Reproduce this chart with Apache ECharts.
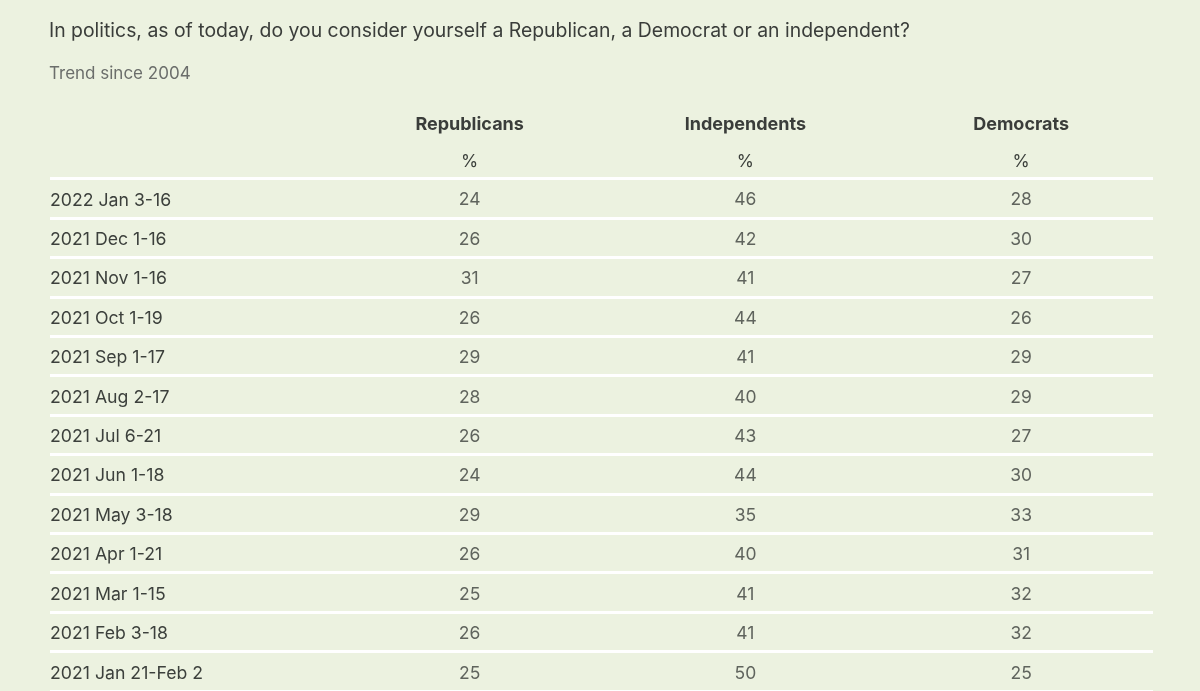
<!DOCTYPE html>
<html>
<head>
<meta charset="utf-8">
<script src="https://cdn.jsdelivr.net/npm/echarts@6/dist/echarts.min.js"></script>
<style>
  html, body { margin: 0; padding: 0; background: #ecf2e0; }
  #box { width: 1200px; height: 691px; }
</style>
</head>
<body>
<div id="box"></div>
<script>
var titleText = 'In politics, as of today, do you consider yourself a Republican, a Democrat or an independent?';
var subText = 'Trend since 2004';
var columns = ['', 'Republicans', 'Independents', 'Democrats'];
var unitLabel = '%';
var periods = [
  '2022 Jan 3-16', '2021 Dec 1-16', '2021 Nov 1-16', '2021 Oct 1-19',
  '2021 Sep 1-17', '2021 Aug 2-17', '2021 Jul 6-21', '2021 Jun 1-18',
  '2021 May 3-18', '2021 Apr 1-21', '2021 Mar 1-15', '2021 Feb 3-18',
  '2021 Jan 21-Feb 2'
];
var republicans = [24, 26, 31, 26, 29, 28, 26, 24, 29, 26, 25, 26, 25];
var independents = [46, 42, 41, 44, 41, 40, 43, 44, 35, 40, 41, 41, 50];
var democrats = [28, 30, 27, 26, 29, 29, 27, 30, 33, 31, 32, 32, 25];

var font = 'Inter, "Noto Sans", sans-serif';
var textColor = '#3c403c';

// one invisible scatter series per column, the label is the cell
function cellSeries(col, values) {
  return {
    type: 'scatter',
    symbolSize: 0,
    silent: true,
    data: periods.map(function (p, i) { return [col, p, values[i]]; }),
    label: {
      show: true,
      position: 'inside',
      offset: [6, 2],
      formatter: function (d) { return d.value[2]; },
      color: textColor,
      fontFamily: font,
      fontSize: 17.5
    }
  };
}

var mychart = echarts.init(document.getElementById('box'));
mychart.setOption({
  backgroundColor: '#ecf2e0',
  animation: false,
  title: {
    text: titleText,
    subtext: subText,
    left: 44,
    top: 17,
    itemGap: 24,
    textStyle: { fontFamily: font, fontSize: 19.4, fontWeight: 'normal', color: '#3a3d3a' },
    subtextStyle: { fontFamily: font, fontSize: 17, color: '#6b6e6b' }
  },
  grid: { left: 50, right: 47, top: 178.5, bottom: -1 },
  xAxis: {
    type: 'category',
    position: 'top',
    data: columns,
    axisLine: { show: false },
    axisTick: { show: false },
    splitLine: { show: false },
    axisLabel: {
      margin: -1.5,
      formatter: function (v) { return v ? '{h|' + v + '}\n{p|' + unitLabel + '}' : ''; },
      rich: {
        h: { fontFamily: font, fontSize: 18, fontWeight: 'bold', color: '#3a3d3a', lineHeight: 37, padding: [0, 0, 0, 12] },
        p: { fontFamily: font, fontSize: 17.5, color: textColor, lineHeight: 37, padding: [0, 0, 0, 12] }
      }
    }
  },
  yAxis: {
    type: 'category',
    inverse: true,
    data: periods,
    axisLine: { show: false },
    axisTick: { show: false },
    axisLabel: {
      inside: true,
      margin: 0,
      color: textColor,
      fontFamily: font,
      fontSize: 17.7,
      verticalAlign: 'top',
      lineHeight: 4
    },
    splitLine: { show: true, lineStyle: { color: '#ffffff', width: 2.8 } }
  },
  series: [
    cellSeries(columns[1], republicans),
    cellSeries(columns[2], independents),
    cellSeries(columns[3], democrats)
  ]
});
</script>
</body>
</html>
